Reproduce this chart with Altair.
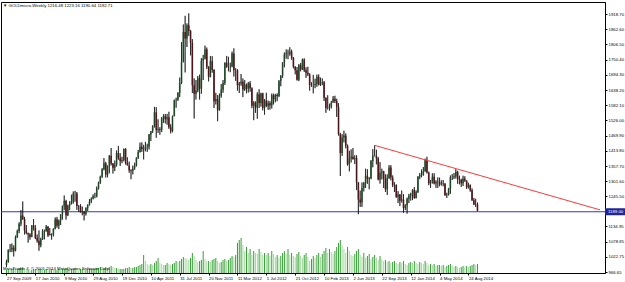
import altair as alt
import pandas as pd

# ---------------- data (weekly bars, 27 Sep 2009 .. 28 Sep 2014) ----------------
first_open = 992.0

close_2009 = [1004, 1049, 1050, 1056, 1045, 1095, 1118, 1145, 1175, 1162, 1120, 1110, 1105, 1096]
high_2009 = [1012, 1050, 1070, 1072, 1065, 1101, 1123, 1150, 1195, 1227, 1170, 1140, 1112, 1110]
low_2009 = [985, 1001, 1040, 1040, 1024, 1043, 1092, 1110, 1136, 1159, 1105, 1106, 1075, 1086]

close_2010 = [1138, 1130, 1092, 1082, 1065, 1088, 1118, 1118, 1134, 1102, 1107, 1105, 1126, 1161, 1137, 1157,
              1179, 1209, 1229, 1176, 1212, 1217, 1226, 1256, 1256, 1210, 1210, 1187, 1188, 1181, 1204, 1215,
              1227, 1237, 1246, 1246, 1275, 1297, 1318, 1346, 1368, 1326, 1358, 1396, 1367, 1351, 1362, 1406,
              1386, 1376, 1380, 1421]
high_2010 = [1140, 1162, 1140, 1105, 1120, 1093, 1125, 1123, 1140, 1136, 1129, 1109, 1128, 1168, 1170, 1160,
             1180, 1212, 1249, 1233, 1215, 1228, 1252, 1264, 1266, 1262, 1214, 1217, 1208, 1192, 1205, 1216,
             1236, 1242, 1253, 1259, 1282, 1300, 1322, 1350, 1387, 1373, 1360, 1398, 1424, 1369, 1378, 1415,
             1432, 1405, 1392, 1422]
low_2010 = [1095, 1120, 1088, 1075, 1045, 1058, 1085, 1087, 1115, 1096, 1102, 1086, 1098, 1124, 1130, 1125,
            1140, 1160, 1195, 1160, 1173, 1195, 1216, 1219, 1226, 1196, 1189, 1186, 1176, 1157, 1175, 1192,
            1212, 1221, 1235, 1239, 1242, 1271, 1292, 1314, 1342, 1315, 1316, 1331, 1360, 1330, 1339, 1356,
            1381, 1358, 1368, 1375]

close_2011 = [1369, 1360, 1342, 1340, 1349, 1360, 1388, 1409, 1429, 1421, 1419, 1428, 1429, 1474, 1486, 1504,
              1556, 1491, 1494, 1492, 1536, 1542, 1530, 1538, 1501, 1486, 1542, 1601, 1602, 1628, 1664, 1742,
              1852, 1828, 1877, 1856, 1813, 1656, 1624, 1636, 1682, 1643, 1746, 1754, 1788, 1724, 1687, 1745,
              1712, 1597, 1605, 1564]
high_2011 = [1424, 1390, 1374, 1346, 1359, 1370, 1390, 1417, 1444, 1445, 1436, 1447, 1440, 1476, 1487, 1508,
             1576, 1575, 1530, 1501, 1538, 1549, 1550, 1550, 1558, 1512, 1544, 1603, 1610, 1630, 1684, 1815,
             1880, 1912, 1884, 1921, 1860, 1826, 1681, 1675, 1690, 1695, 1756, 1768, 1802, 1795, 1726, 1764,
             1763, 1715, 1628, 1620]
low_2011 = [1363, 1360, 1333, 1309, 1327, 1344, 1356, 1384, 1408, 1410, 1382, 1412, 1410, 1419, 1450, 1480,
            1500, 1462, 1480, 1473, 1483, 1517, 1515, 1510, 1495, 1478, 1482, 1541, 1573, 1598, 1612, 1660,
            1740, 1703, 1797, 1838, 1766, 1627, 1533, 1603, 1630, 1603, 1624, 1675, 1751, 1716, 1670, 1685,
            1702, 1572, 1585, 1523]

close_2012 = [1617, 1639, 1664, 1739, 1724, 1724, 1725, 1773, 1711, 1711, 1656, 1662, 1669, 1640, 1658, 1643,
              1663, 1645, 1580, 1592, 1573, 1623, 1590, 1626, 1572, 1599, 1579, 1589, 1582, 1619, 1604, 1620,
              1616, 1671, 1691, 1740, 1770, 1773, 1772, 1780, 1757, 1724, 1711, 1676, 1730, 1714, 1751, 1711,
              1702, 1696, 1657, 1656, 1656]
high_2012 = [1625, 1660, 1675, 1740, 1764, 1761, 1739, 1780, 1792, 1719, 1715, 1668, 1697, 1681, 1675, 1662,
             1668, 1671, 1648, 1597, 1596, 1630, 1641, 1628, 1628, 1605, 1628, 1599, 1597, 1625, 1625, 1624,
             1626, 1675, 1693, 1741, 1777, 1788, 1787, 1796, 1787, 1760, 1726, 1723, 1734, 1738, 1754, 1755,
             1722, 1724, 1700, 1667, 1694]
low_2012 = [1562, 1610, 1628, 1657, 1720, 1707, 1704, 1722, 1688, 1672, 1636, 1627, 1654, 1612, 1635, 1626,
            1629, 1632, 1571, 1527, 1554, 1532, 1572, 1577, 1563, 1547, 1575, 1565, 1566, 1570, 1585, 1593,
            1597, 1612, 1652, 1683, 1722, 1754, 1752, 1765, 1750, 1718, 1696, 1673, 1671, 1707, 1712, 1705,
            1683, 1690, 1636, 1650, 1626]

close_2013 = [1660, 1687, 1658, 1668, 1667, 1610, 1572, 1573, 1577, 1592, 1606, 1598, 1575, 1476, 1406, 1463,
              1470, 1433, 1364, 1386, 1392, 1383, 1387, 1297, 1234, 1223, 1277, 1295, 1322, 1310, 1312, 1376,
              1396, 1395, 1386, 1308, 1333, 1338, 1310, 1272, 1314, 1352, 1315, 1287, 1288, 1244, 1253, 1230,
              1234, 1203, 1212, 1237]
high_2013 = [1680, 1695, 1696, 1684, 1681, 1671, 1611, 1619, 1588, 1598, 1616, 1617, 1606, 1590, 1480, 1475,
             1488, 1478, 1437, 1414, 1419, 1424, 1397, 1398, 1298, 1267, 1297, 1299, 1348, 1346, 1317, 1380,
             1420, 1434, 1418, 1391, 1372, 1348, 1340, 1327, 1327, 1361, 1361, 1323, 1298, 1290, 1265, 1254,
             1267, 1254, 1217, 1241]
low_2013 = [1645, 1650, 1655, 1653, 1656, 1598, 1554, 1566, 1562, 1570, 1591, 1590, 1539, 1470, 1321, 1395,
            1445, 1423, 1359, 1338, 1371, 1382, 1365, 1269, 1180, 1207, 1207, 1264, 1277, 1292, 1272, 1309,
            1353, 1393, 1364, 1305, 1293, 1308, 1277, 1262, 1251, 1310, 1305, 1280, 1262, 1240, 1221, 1210,
            1223, 1185, 1195, 1182]

close_2014 = [1248, 1254, 1270, 1240, 1262, 1319, 1324, 1326, 1338, 1379, 1334, 1294, 1303, 1318, 1293, 1300,
              1299, 1290, 1293, 1292, 1250, 1252, 1275, 1316, 1316, 1320, 1337, 1309, 1307, 1294, 1311, 1304,
              1280, 1287, 1268, 1231, 1216, 1216.48, 1192.71]
high_2014 = [1255, 1259, 1272, 1280, 1268, 1320, 1332, 1345, 1354, 1385, 1392, 1337, 1306, 1331, 1331, 1305,
             1316, 1315, 1305, 1306, 1295, 1259, 1277, 1323, 1328, 1332, 1346, 1340, 1322, 1311, 1322, 1320,
             1305, 1296, 1290, 1275, 1240, 1237, 1223.16]
low_2014 = [1221, 1230, 1232, 1237, 1238, 1258, 1309, 1316, 1322, 1337, 1330, 1287, 1277, 1293, 1290, 1277,
            1277, 1283, 1286, 1283, 1248, 1240, 1249, 1255, 1306, 1310, 1312, 1292, 1290, 1281, 1284, 1299,
            1273, 1275, 1263, 1229, 1214, 1207, 1190.64]

# tick volume (thousands), one per weekly bar
volume_2009_2011 = [3, 4, 3, 4, 5, 4, 4, 5, 5, 6, 4, 3, 3, 2, 3, 4,
                    4, 3, 4, 4, 3, 3, 4, 3, 3, 4, 3, 3, 3, 4, 3, 4,
                    4, 5, 5, 4, 4, 4, 5, 4, 3, 4, 4, 3, 3, 4, 4, 4,
                    4, 4, 5, 5, 6, 5, 5, 6, 5, 6, 7, 6, 5, 5, 4, 4,
                    4, 4, 5, 5, 6, 5, 5, 6, 6, 7, 8, 9, 18, 12, 9, 8,
                    9, 8, 10, 12, 15, 10, 9, 8, 8, 10, 9, 8, 9, 10, 12, 11,
                    12, 14, 16, 15, 14, 13, 15, 20, 17, 13, 11, 12, 13, 22, 14, 12,
                    12, 11, 13, 14, 15, 12, 10, 11, 13, 14, 12, 13, 15, 17, 16, 18]
volume_2012_2014 = [30, 33, 35, 28, 22, 26, 20, 24, 18, 22, 20, 19, 24, 21, 18, 20,
                    18, 20, 17, 22, 19, 16, 18, 15, 17, 20, 22, 19, 24, 18, 20, 17,
                    16, 19, 21, 17, 15, 18, 20, 16, 12, 14, 17, 15, 18, 20, 16, 19,
                    22, 25, 20, 24, 21, 19, 22, 26, 30, 33, 27, 24, 20, 26, 22, 18,
                    17, 19, 22, 24, 18, 16, 20, 15, 17, 19, 14, 16, 18, 15, 13, 17,
                    14, 12, 13, 11, 12, 10, 11, 12, 10, 9, 11, 10, 12, 9, 8, 10,
                    11, 10, 12, 10, 9, 11, 10, 9, 12, 10, 8, 9, 8, 9, 7, 8,
                    8, 7, 8, 6, 7, 8, 9, 7, 6, 7, 6, 5, 6, 7, 6, 7,
                    6, 7, 8, 9, 8, 9]

date_labels = ["27 Sep 2009", "17 Jan 2010", "9 May 2010", "29 Aug 2010", "19 Dec 2010", "10 Apr 2011",
               "31 Jul 2011", "20 Nov 2011", "11 Mar 2012", "1 Jul 2012", "21 Oct 2012", "10 Feb 2013",
               "2 Jun 2013", "22 Sep 2013", "12 Jan 2014", "4 May 2014", "24 Aug 2014"]
date_label_bars = [0, 16, 32, 48, 64, 80, 96, 112, 128, 144, 160, 176, 192, 208, 224, 240, 256]

price_ticks = [1918.70, 1862.60, 1806.50, 1750.40, 1694.30, 1638.20, 1582.10, 1526.00, 1469.90,
               1413.80, 1357.70, 1301.60, 1245.50, 1134.95, 1078.85, 1022.75, 966.65]

support_level = 1189.00
trend_bar = [204, 328.9]
trend_price = [1434, 1196]

title_text = "\u25bc GOLDmicro,Weekly  1216.48 1223.16 1190.64 1192.71"
copyright_text = "MetaTrader 4, \u00a9 2001-2014 MetaQuotes Software Corp."

# ---------------- table ----------------
close = close_2009 + close_2010 + close_2011 + close_2012 + close_2013 + close_2014
high = high_2009 + high_2010 + high_2011 + high_2012 + high_2013 + high_2014
low = low_2009 + low_2010 + low_2011 + low_2012 + low_2013 + low_2014
volume = volume_2009_2011 + volume_2012_2014
opens = [first_open] + close[:-1]
n = len(close)
df = pd.DataFrame({"bar": list(range(n)), "open": opens, "high": high, "low": low,
                   "close": close, "vol": volume})
df["dir"] = ["up" if c >= o else "down" for o, c in zip(df["open"], df["close"])]
df["vdir"] = ["up"] + ["up" if volume[k] >= volume[k - 1] else "down" for k in range(1, n)]

one = pd.DataFrame({"a": [0]})
trend_df = pd.DataFrame({"bar": trend_bar, "price": trend_price})

FONT = "Liberation Sans"
FS = 4.3
label_js = "[" + ",".join("'%s'" % s for s in date_labels) + "]"

xs = alt.Scale(domain=[-0.27, 328.9], nice=False, zero=False)
x_axis = alt.Axis(values=date_label_bars, labelExpr=label_js + "[round(datum.value/16)]",
                  labelAlign="left", labelBaseline="top", labelPadding=1, tickSize=2,
                  labelOverlap=False, labelFlush=False, grid=False, title=None,
                  labelFontSize=FS, labelFont=FONT, labelColor="#000", domainColor="#000", tickColor="#000")
ys = alt.Scale(domain=[963, 1963], nice=False, zero=False)
y_axis = alt.Axis(orient="right", values=price_ticks, format=".2f", labelAlign="left",
                  labelBaseline="middle", labelPadding=1, tickSize=2, labelFlush=False,
                  labelOverlap=False, grid=False, title=None, labelFontSize=FS, labelFont=FONT,
                  labelColor="#000", domainColor="#000", tickColor="#000")

X = alt.X("bar:Q", scale=xs, axis=x_axis)

vol_layer = alt.Chart(df).mark_bar(size=1).encode(
    x=X,
    y=alt.Y("vol:Q", scale=alt.Scale(domain=[0, 271], nice=False), axis=None),
    color=alt.Color("vdir:N", scale=alt.Scale(domain=["up", "down"], range=["#35a035", "#a6d9a0"]), legend=None),
)

base = alt.Chart(df)
support = alt.Chart(one).mark_rule(color="#3434c8", strokeWidth=1).encode(
    y=alt.Y("lvl:Q", scale=ys, axis=y_axis)).transform_calculate(lvl=str(support_level))

wicks = base.mark_rule(color="#111", strokeWidth=0.8).encode(
    x=X, y=alt.Y("low:Q", scale=ys, axis=y_axis), y2="high:Q")
bodies = base.mark_bar(size=1.6).encode(
    x=X, y=alt.Y("open:Q", scale=ys, axis=y_axis), y2="close:Q",
    color=alt.Color("dir:N", scale=alt.Scale(domain=["up", "down"], range=["#2f6f3a", "#7a1c28"]), legend=None))
wicks_top = base.mark_rule(color="#111", strokeWidth=0.5).encode(
    x=X, y=alt.Y("low:Q", scale=ys, axis=y_axis), y2="high:Q")

trend = alt.Chart(trend_df).mark_line(color="#ff3a3a", strokeWidth=1, clip=True).encode(
    x=X, y=alt.Y("price:Q", scale=ys, axis=y_axis))

box = alt.Chart(one).mark_rule(color="#23239a", strokeWidth=7, strokeCap="butt").encode(
    y=alt.Y("lvl:Q", scale=ys, axis=y_axis), x=alt.value(604), x2=alt.value(624)
).transform_calculate(lvl=str(support_level))
box_text = alt.Chart(one).mark_text(align="left", baseline="middle", fontSize=FS, font=FONT, color="white").encode(
    y=alt.Y("lvl:Q", scale=ys, axis=y_axis), x=alt.value(607), text=alt.value("%.2f" % support_level)
).transform_calculate(lvl=str(support_level))

title = alt.Chart(one).mark_text(align="left", baseline="middle", fontSize=FS, font=FONT, color="#000").encode(
    x=alt.value(2), y=alt.value(3.5), text=alt.value(title_text))
copyright_mark = alt.Chart(one).mark_text(align="left", baseline="middle", fontSize=FS, font=FONT, color="#000").encode(
    x=alt.value(2), y=alt.value(267), text=alt.value(copyright_text))

price = alt.layer(support, wicks, bodies, wicks_top, trend, box, box_text, title, copyright_mark)

chart = alt.layer(vol_layer, price).resolve_scale(y="independent", color="independent").properties(
    width=604, height=271,
    padding={"left": 1, "top": 2, "right": 20, "bottom": 9},
    autosize=alt.AutoSizeParams(type="none"),
    background="white",
).configure_view(stroke="#000", strokeWidth=1)

chart.save("out.html", embed_options={"renderer": "svg", "actions": False})
